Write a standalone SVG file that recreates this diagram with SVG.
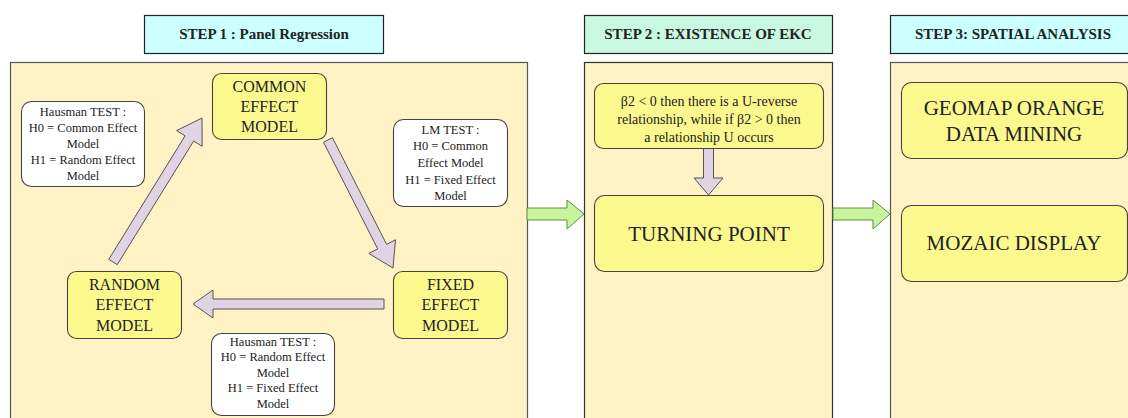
<svg xmlns="http://www.w3.org/2000/svg" width="1128" height="418" viewBox="0 0 1128 418" font-family="'Liberation Serif', 'Times New Roman', 'DejaVu Serif', serif">
<defs>
<style>
text{font-family:'Liberation Serif','Times New Roman','DejaVu Serif',serif}
.panel{fill:#fff2c4;stroke:#555;stroke-width:1.2}
.title{stroke:#222;stroke-width:1.2}
.ttl{font-weight:bold;font-size:15px;fill:#222;text-anchor:middle}
.node{fill:#fbf98e;stroke:#444;stroke-width:1.1}
.note{fill:#ffffff;stroke:#444;stroke-width:1.1}
.nt{font-size:16px;fill:#222;text-anchor:middle}
.big{font-size:21px;fill:#222;text-anchor:middle}
.sm{font-size:12.5px;fill:#222;text-anchor:middle}
.md{font-size:14px;fill:#222;text-anchor:middle}
.parr{fill:#e1d3e4;stroke:#555;stroke-width:1}
.garr{fill:#c8f59c;stroke:#5c8f40;stroke-width:1}
</style>
</defs>
<rect width="1128" height="418" fill="#ffffff"/>

<g id="step1">
<rect class="title" x="144.5" y="15.5" width="239" height="38" fill="#ccffff"/>
<text class="ttl" x="264" y="39">STEP 1 : Panel Regression</text>
<rect class="panel" x="10.5" y="62.5" width="517" height="370"/>
</g>
<g id="step2">
<rect class="title" x="584.5" y="15.5" width="248" height="38" fill="#c8f7e2"/>
<text class="ttl" x="708" y="39">STEP 2 : EXISTENCE OF EKC</text>
<rect class="panel" x="584.5" y="62.5" width="248" height="370" style="stroke:#333"/>
</g>
<g id="step3">
<rect class="title" x="890.5" y="15.5" width="250" height="38" fill="#ccffff"/>
<text class="ttl" x="1013" y="39">STEP 3: SPATIAL ANALYSIS</text>
<rect class="panel" x="890.5" y="62.5" width="250" height="370"/>
</g>

<g id="connectors">
<polygon class="parr" points="117.26,264.63 193.62,141.08 202.14,146.35 202,118 176.58,130.55 185.1,135.82 108.74,259.37"/>
<polygon class="parr" points="323.54,142.26 377.68,248.87 368.77,253.4 393,268 395.51,239.82 386.6,244.35 332.46,137.74"/>
<polygon class="parr" points="384,299 213,299 213,290 193,304 213,318 213,309 384,309"/>
<polygon class="parr" points="703.5,148 713.5,148 713.5,178 723,178 708.5,195 694,178 703.5,178"/>
<polygon class="garr" points="527,208 567,208 567,200 584,214 567,229 567,220 527,220"/>
<polygon class="garr" points="833,208 873,208 873,200 890,214 873,229 873,220 833,220"/>
</g>

<g id="common">
<rect class="node" x="212.5" y="73.5" width="114" height="66" rx="9"/>
<text class="nt" x="269.5" y="92">COMMON</text>
<text class="nt" x="269.5" y="112">EFFECT</text>
<text class="nt" x="269.5" y="132">MODEL</text>
</g>
<g id="random">
<rect class="node" x="67.5" y="271.5" width="114" height="67" rx="9"/>
<text class="nt" x="124.5" y="290">RANDOM</text>
<text class="nt" x="124.5" y="310">EFFECT</text>
<text class="nt" x="124.5" y="331">MODEL</text>
</g>
<g id="fixed">
<rect class="node" x="393.5" y="271.5" width="114" height="67" rx="9"/>
<text class="nt" x="450.5" y="290">FIXED</text>
<text class="nt" x="450.5" y="310">EFFECT</text>
<text class="nt" x="450.5" y="331">MODEL</text>
</g>
<g id="hausman1">
<rect class="note" x="21.5" y="101.5" width="123" height="85" rx="10"/>
<text class="sm" x="83" y="116">Hausman TEST :</text>
<text class="sm" x="83" y="132">H0 = Common Effect</text>
<text class="sm" x="83" y="148">Model</text>
<text class="sm" x="83" y="164">H1 = Random Effect</text>
<text class="sm" x="83" y="180">Model</text>
</g>
<g id="lm">
<rect class="note" x="393.5" y="119.5" width="114" height="87" rx="10"/>
<text class="sm" x="450.5" y="134">LM TEST :</text>
<text class="sm" x="450.5" y="150">H0 = Common</text>
<text class="sm" x="450.5" y="167">Effect Model</text>
<text class="sm" x="450.5" y="184">H1 = Fixed Effect</text>
<text class="sm" x="450.5" y="200">Model</text>
</g>
<g id="hausman2">
<rect class="note" x="211.5" y="333.5" width="123" height="82" rx="10"/>
<text class="sm" x="273" y="346">Hausman TEST :</text>
<text class="sm" x="273" y="361">H0 = Random Effect</text>
<text class="sm" x="273" y="377">Model</text>
<text class="sm" x="273" y="392">H1 = Fixed Effect</text>
<text class="sm" x="273" y="408">Model</text>
</g>

<g id="beta">
<rect class="node" x="594.5" y="83.5" width="229" height="65" rx="9"/>
<text class="md" x="709" y="106">β2 &lt; 0 then there is a U-reverse</text>
<text class="md" x="709" y="124">relationship, while if β2 &gt; 0 then</text>
<text class="md" x="709" y="142">a relationship U occurs</text>
</g>
<g id="turning">
<rect class="node" x="594.5" y="195.5" width="229" height="76" rx="10"/>
<text class="big" x="709" y="241">TURNING POINT</text>
</g>
<g id="geomap">
<rect class="node" x="901.5" y="82.5" width="226" height="76" rx="10"/>
<text class="big" x="1014" y="115">GEOMAP ORANGE</text>
<text class="big" x="1014" y="141">DATA MINING</text>
</g>
<g id="mozaic">
<rect class="node" x="901.5" y="205.5" width="226" height="76" rx="10"/>
<text class="big" x="1014" y="250">MOZAIC DISPLAY</text>
</g>
</svg>
